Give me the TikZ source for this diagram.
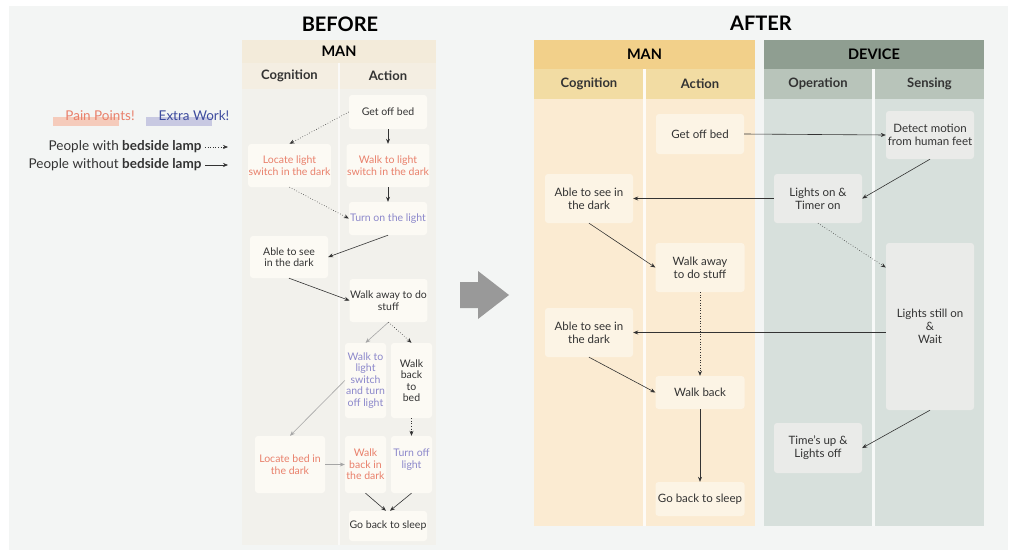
\documentclass[tikz,border=0pt]{standalone}
\usepackage{fontspec}
\setmainfont{Lato}
\usetikzlibrary{arrows.meta}

\definecolor{canvas}{HTML}{F3F5F4}
\definecolor{ink}{HTML}{333333}
\definecolor{pain}{HTML}{E9806B}
\definecolor{extra}{HTML}{8C88CB}
\definecolor{extradark}{HTML}{3E4C9E}
\definecolor{painbar}{HTML}{F5CBBB}
\definecolor{extrabar}{HTML}{C8C9E2}
\definecolor{bhead}{HTML}{F3EBDA}
\definecolor{bsub}{HTML}{F4EEE2}
\definecolor{bbody}{HTML}{F2F1EC}
\definecolor{bnode}{HTML}{FCFAF4}
\definecolor{mhead}{HTML}{F2D08A}
\definecolor{msub}{HTML}{F2DCA3}
\definecolor{mbody}{HTML}{FBEBD2}
\definecolor{mnode}{HTML}{FCF4E5}
\definecolor{dhead}{HTML}{8F9E91}
\definecolor{dsub}{HTML}{B8C4BA}
\definecolor{dbody}{HTML}{D7E0DC}
\definecolor{dnode}{HTML}{EAEBE9}

\tikzset{
  bbox/.style={rectangle, rounded corners=3pt, fill=bnode, text=ink, align=center, inner sep=0.5pt,
    font=\fontsize{10.5}{11.5}\selectfont},
  mbox/.style={bbox, fill=mnode, font=\fontsize{11.5}{13}\selectfont},
  dbox/.style={mbox, fill=dnode},
  flow/.style={-{Stealth[length=5pt,width=4pt]}, line width=0.6pt, draw=ink},
  faint/.style={flow, draw=black!35},
  title/.style={font=\fontsize{20}{22}\selectfont\bfseries, text=black},
  head/.style={font=\fontsize{14.5}{16}\selectfont\bfseries, text=black},
  subhead/.style={font=\fontsize{13}{15}\selectfont\bfseries, text=ink},
  legend/.style={font=\fontsize{13.5}{15}\selectfont, text=ink, anchor=east}
}

\begin{document}
\begin{tikzpicture}[x=1pt, y=-1pt]
  \useasboundingbox (0,0) rectangle (1011,554);
  \fill[canvas] (9,6) rectangle (1008,550);

  % Legend
  \fill[painbar] (53,117) rectangle (119,126);
  \fill[extrabar] (146,117) rectangle (212,126);
  \node[font=\fontsize{13.5}{15}\selectfont, text=pain] (lpain) at (100,116) {Pain Points!};
  \node[font=\fontsize{13.5}{15}\selectfont, text=extradark] (lextra) at (194,116) {Extra Work!};
  \node[legend] (lwith) at (205,147) {People with \textbf{bedside lamp}};
  \node[legend] (lwithout) at (205,165) {People without \textbf{bedside lamp}};
  \coordinate (lwithend) at (228,147);
  \coordinate (lwithoutend) at (228,165);
  \draw[flow, dotted] (lwith.east) -- (lwithend);
  \draw[flow] (lwithout.east) -- (lwithoutend);

  % BEFORE lanes
  \node[title] (tbefore) at (340,24) {BEFORE};
  \fill[bhead] (242,40) rectangle (436,63);
  \fill[bsub] (242,63) rectangle (436,89);
  \fill[bbody] (242,89) rectangle (436,545);
  \draw[white!60!bbody, line width=2pt] (338.5,63) -- (338.5,545);
  \node[head] (bman) at (339,51.5) {MAN};
  \node[subhead] (bcog) at (289.5,76) {Cognition};
  \node[subhead] (bact) at (388,76) {Action};

  \node[bbox, minimum width=78pt, minimum height=34pt] (b1) at (388,112) {Get off bed};
  \node[bbox, minimum width=77pt, minimum height=43pt, text=pain] (b2) at (289.5,165.5) {Locate light\\switch in the dark};
  \node[bbox, minimum width=78pt, minimum height=43pt, text=pain] (b3) at (388,165.5) {Walk to light\\switch in the dark};
  \node[bbox, minimum width=78pt, minimum height=33pt, text=extra] (b4) at (388,218.5) {Turn on the light};
  \node[bbox, minimum width=78pt, minimum height=42pt] (b5) at (289,257) {Able to see\\in the dark};
  \node[bbox, minimum width=77pt, minimum height=43pt] (b6) at (388.5,300.5) {Walk away to do\\stuff};
  \node[bbox, minimum width=41pt, minimum height=75pt, text=extra] (b7) at (365.5,380.5) {Walk to\\light\\switch\\and turn\\off light};
  \node[bbox, minimum width=41pt, minimum height=75pt] (b8) at (411.5,380.5) {Walk\\back\\to\\bed};
  \node[bbox, minimum width=70pt, minimum height=57pt, text=pain] (b9) at (290,464.5) {Locate bed in\\the dark};
  \node[bbox, minimum width=41pt, minimum height=57pt, text=pain] (b10) at (365.5,464.5) {Walk\\back in\\the dark};
  \node[bbox, minimum width=41pt, minimum height=57pt, text=extra] (b11) at (411.5,464.5) {Turn off\\light\\\mbox{}};
  \node[bbox, minimum width=78pt, minimum height=30pt] (b12) at (388,526) {Go back to sleep};

  \draw[flow, dotted] (b1.west) -- (b2.north);
  \draw[flow] (b1.south) -- (b3.north);
  \draw[flow] (b3.south) -- (b4.north);
  \draw[flow, dotted] (b2.south) -- (b4.west);
  \draw[flow] (b4.south) -- (b5.east);
  \draw[flow] (b5.south) -- (b6.west);
  \draw[faint] (b6.south) -- (b7.north);
  \draw[flow, dotted] (b6.south) -- (b8.north);
  \draw[faint] (b7.west) -- (b9.north);
  \draw[flow, dotted] (b8.south) -- (b11.north);
  \draw[faint] (b9.east) -- (b10.west);
  \draw[flow] (b10.south) -- ([xshift=-2pt]b12.north);
  \draw[flow] (b11.south) -- ([xshift=2pt]b12.north);

  % big arrow
  \fill[black!40] (460,282) -- (478,282) -- (478,271) -- (509,295) -- (478,319) -- (478,308) -- (460,308) -- cycle;

  % AFTER lanes
  \node[title] (tafter) at (761,23) {AFTER};
  \fill[mhead] (534,40) rectangle (755,69);
  \fill[msub] (534,69) rectangle (755,99);
  \fill[mbody] (534,99) rectangle (755,526);
  \draw[white!80!mbody, line width=3pt] (644.5,69) -- (644.5,526);
  \fill[dhead] (764,40) rectangle (984,69);
  \fill[dsub] (764,69) rectangle (984,99);
  \fill[dbody] (764,99) rectangle (984,526);
  \draw[white!80!dbody, line width=3pt] (873.5,69) -- (873.5,526);
  \node[head] (aman) at (644.5,54.5) {MAN};
  \node[head] (adev) at (874,54.5) {DEVICE};
  \node[subhead] (acog) at (589,84) {Cognition};
  \node[subhead] (aact) at (700,84) {Action};
  \node[subhead] (aop) at (818,84) {Operation};
  \node[subhead] (asen) at (929.5,84) {Sensing};

  \node[mbox, minimum width=88pt, minimum height=40pt] (a1) at (700,134) {Get off bed};
  \node[dbox, minimum width=88pt, minimum height=48pt] (a2) at (930,135) {Detect motion\\from human feet};
  \node[mbox, minimum width=88pt, minimum height=49pt] (a3) at (589,198.5) {Able to see in\\the dark};
  \node[dbox, minimum width=88pt, minimum height=49pt] (a4) at (818,198.5) {Lights on \&\\Timer on};
  \node[mbox, minimum width=89pt, minimum height=49pt] (a5) at (700,267.5) {Walk away\\to do stuff};
  \node[dbox, minimum width=88pt, minimum height=167pt] (a6) at (930,326.5) {Lights still on\\\&\\Wait};
  \node[mbox, minimum width=88pt, minimum height=49pt] (a7) at (589,332.5) {Able to see in\\the dark};
  \node[mbox, minimum width=89pt, minimum height=33pt] (a8) at (700,392.5) {Walk back};
  \node[dbox, minimum width=88pt, minimum height=50pt] (a9) at (818,448) {Time's up \&\\Lights off};
  \node[mbox, minimum width=89pt, minimum height=34pt] (a10) at (700,499) {Go back to sleep};

  \draw[flow] (a1.east) -- (a2.west);
  \draw[flow] (a2.south) -- (a4.east);
  \draw[flow] (a4.west) -- (a3.east);
  \draw[flow] (a3.south) -- (a5.west);
  \draw[flow, dotted] (a4.south) -- (a6.west |- a5.west);
  \draw[flow, dotted] (a5.south) -- (a8.north);
  \draw[flow] (a6.west |- a7.east) -- (a7.east);
  \draw[flow] (a7.south) -- (a8.west);
  \draw[flow] (a6.south) -- (a9.east);
  \draw[flow] (a8.south) -- (a10.north);
\end{tikzpicture}
\end{document}
